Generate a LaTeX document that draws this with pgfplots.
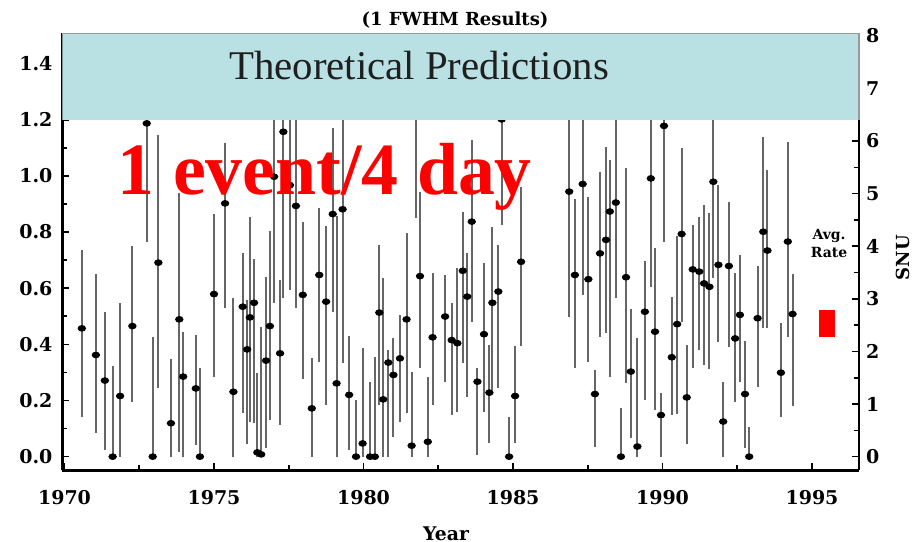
\documentclass[border=0pt]{standalone}
\usepackage{fontspec}
\setmainfont{Liberation Serif}
\newfontfamily\dvs{DejaVu Serif}
\usepackage{pgfplots}
\usepackage{pgfplotstable}
\pgfplotsset{compat=1.18}
\definecolor{bandc}{RGB}{185,224,227}
\pgfplotstableread{
x y hi lo
1970.58 0.457 0.736 0.142
1971.05 0.362 0.651 0.085
1971.35 0.271 0.516 0.024
1971.61 0.000 0.323 0.000
1971.86 0.216 0.546 0.000
1972.27 0.465 0.750 0.196
1972.75 1.187 1.500 0.766
1972.95 0.000 0.427 0.000
1973.14 0.691 1.146 0.243
1973.56 0.119 0.347 0.000
1973.84 0.489 0.940 0.018
1973.97 0.285 0.445 0.000
1974.39 0.243 0.433 0.042
1974.53 0.000 0.315 0.000
1975.00 0.579 0.864 0.285
1975.37 0.902 1.116 0.528
1975.65 0.231 0.564 0.000
1975.96 0.534 0.724 0.154
1976.11 0.382 0.558 0.044
1976.20 0.496 0.855 0.125
1976.34 0.548 0.703 0.119
1976.45 0.015 0.298 0.000
1976.58 0.008 0.463 0.000
1976.74 0.342 0.641 0.030
1976.87 0.465 0.805 0.131
1977.01 0.997 1.500 0.546
1977.21 0.368 0.629 0.113
1977.32 1.157 1.500 0.564
1977.54 0.967 1.500 0.594
1977.74 0.893 1.500 0.528
1977.97 0.576 0.837 0.275
1978.27 0.172 0.350 0.000
1978.52 0.647 0.884 0.338
1978.75 0.552 0.821 0.184
1978.97 0.864 1.169 0.516
1979.10 0.261 0.857 0.000
1979.30 0.881 1.500 0.332
1979.52 0.220 0.430 0.024
1979.75 0.000 0.202 0.000
1979.97 0.047 0.386 0.000
1980.22 0.000 0.267 0.000
1980.38 0.000 0.354 0.000
1980.53 0.513 0.754 0.184
1980.66 0.204 0.635 0.000
1980.83 0.335 0.380 0.000
1981.00 0.291 0.423 0.071
1981.22 0.350 0.505 0.125
1981.44 0.489 0.798 0.154
1981.61 0.039 0.303 0.000
1981.76 1.300 1.500 0.849
1981.89 0.643 0.944 0.315
1982.15 0.053 0.285 0.000
1982.31 0.425 0.653 0.184
1982.73 0.499 0.647 0.267
1982.95 0.415 0.548 0.148
1983.14 0.404 0.671 0.160
1983.32 0.662 0.873 0.332
1983.47 0.570 0.724 0.214
1983.62 0.837 1.128 0.481
1983.81 0.267 0.316 0.006
1984.03 0.436 0.691 0.160
1984.21 0.228 0.398 0.047
1984.31 0.548 0.819 0.237
1984.51 0.588 0.754 0.243
1984.62 1.201 1.500 0.825
1984.87 0.000 0.142 0.000
1985.07 0.216 0.394 0.047
1985.27 0.694 0.962 0.394
1986.88 0.944 1.500 0.499
1987.07 0.647 0.916 0.315
1987.33 0.971 1.500 0.576
1987.52 0.632 0.924 0.338
1987.74 0.223 0.309 0.036
1987.91 0.724 1.015 0.427
1988.11 0.772 1.104 0.439
1988.24 0.873 1.057 0.285
1988.44 0.905 1.500 0.564
1988.61 0.000 0.172 0.000
1988.78 0.639 1.027 0.261
1988.94 0.303 0.525 0.065
1989.16 0.036 0.421 0.000
1989.41 0.516 0.698 0.202
1989.61 0.991 1.500 0.605
1989.75 0.445 0.742 0.166
1989.95 0.148 0.226 0.000
1990.05 1.178 1.500 0.766
1990.31 0.354 0.570 0.148
1990.49 0.472 0.786 0.152
1990.64 0.793 1.098 0.481
1990.81 0.211 0.398 0.045
1991.01 0.667 0.825 0.315
1991.23 0.659 0.855 0.380
1991.39 0.617 0.896 0.326
1991.57 0.605 0.869 0.311
1991.70 0.979 1.500 0.635
1991.87 0.683 0.967 0.410
1992.03 0.125 0.267 0.000
1992.22 0.679 0.908 0.392
1992.43 0.421 0.655 0.196
1992.59 0.505 0.718 0.267
1992.76 0.223 0.413 0.030
1992.90 0.000 0.107 0.000
1993.18 0.493 0.679 0.249
1993.37 0.801 1.140 0.457
1993.51 0.734 1.021 0.457
1993.96 0.299 0.475 0.142
1994.19 0.766 1.122 0.427
1994.35 0.508 0.651 0.180
}\datatab
\begin{document}
\begin{tikzpicture}
\pgfplotsset{every axis/.append style={
  scale only axis, width=398.25pt, height=218.6pt,
  xmin=1969.933, xmax=1996.57,
  major tick length=3.5pt, minor tick length=2.5pt,
  tick style={black, line width=0.8pt},
  tick label style={font=\dvs\bfseries\fontsize{9.5}{11}\selectfont},
  /pgf/number format/assume math mode=true,
}}
% right SNU axis (drawn first, so the band covers it)
\begin{axis}[axis x line=none, axis y line*=right,
  axis line style={-, line width=1.2pt},
  tick align=inside,
  ymin=-0.2616, ymax=8.05,
  ytick={0,1,2,3,4,5,6,7,8}, minor y tick num=1]
\end{axis}
% main axis
\begin{axis}[axis x line*=bottom, axis y line*=left,
  axis line style={-, line width=1.2pt},
  tick align=inside,
  ymin=-0.049, ymax=1.508,
  xtick={1970,1975,1980,1985,1990,1995}, minor x tick num=1,
  ytick={0,0.2,0.4,0.6,0.8,1.0,1.2,1.4}, minor y tick num=1,
  x tick label style={/pgf/number format/1000 sep={}, yshift=-6.5pt},
  y tick label style={/pgf/number format/fixed, /pgf/number format/fixed zerofill,
    /pgf/number format/precision=1, xshift=-1.5pt},
  clip mode=individual]
\addplot[only marks, mark=*, mark size=1.45pt,
  mark options={xscale=1.3, fill=black, draw=black},
  error bars/.cd, y dir=both, y explicit, error mark=none,
  error bar style={line width=1pt, black!60}]
  table[x=x, y=y, y error plus expr=\thisrow{hi}-\thisrow{y},
        y error minus expr=\thisrow{y}-\thisrow{lo}] \datatab;
% theoretical predictions band
\addplot[fill=bandc, draw=none] coordinates
  {(1969.933,1.2) (1996.57,1.2) (1996.57,1.508) (1969.933,1.508)} -- cycle;
% average rate box
\addplot[fill=red, draw=none] coordinates
  {(1995.23,0.427) (1995.76,0.427) (1995.76,0.522) (1995.23,0.522)} -- cycle;
\draw[gray!80, line width=0.6pt] (axis cs:1969.933,1.508) -- (axis cs:1996.57,1.508) -- (axis cs:1996.57,1.2);
\node[anchor=base, font=\fontsize{20.4}{24}\selectfont, text=black!88] at (axis cs:1981.86,1.3415) {Theoretical Predictions};
\node[anchor=base, font=\bfseries\fontsize{36.9}{40}\selectfont, text=red] at (axis cs:1978.71,0.932) {1 event/4 day};
\node[anchor=base, font=\dvs\bfseries\fontsize{9}{10}\selectfont] at (axis cs:1983.06,1.537) {(1 FWHM Results)};
\node[anchor=base, font=\dvs\bfseries\fontsize{9.4}{10}\selectfont] at (axis cs:1982.76,-0.297) {Year};
\node[anchor=base, font=\dvs\bfseries\fontsize{7}{8}\selectfont, inner sep=0pt] at (axis cs:1995.57,0.772) {Avg.};
\node[anchor=base, font=\dvs\bfseries\fontsize{7}{8}\selectfont, inner sep=0pt] at (axis cs:1995.57,0.711) {Rate};
\node[rotate=90, font=\dvs\bfseries\fontsize{9}{10}\selectfont] at (axis cs:1998.04,0.708) {SNU};
\coordinate (bbsw) at (axis cs:1967.843,-0.3038);
\coordinate (bbne) at (axis cs:1998.679,1.6264);
\end{axis}
\pgfresetboundingbox
\path[use as bounding box] (bbsw) rectangle (bbne);
\end{tikzpicture}
\end{document}
